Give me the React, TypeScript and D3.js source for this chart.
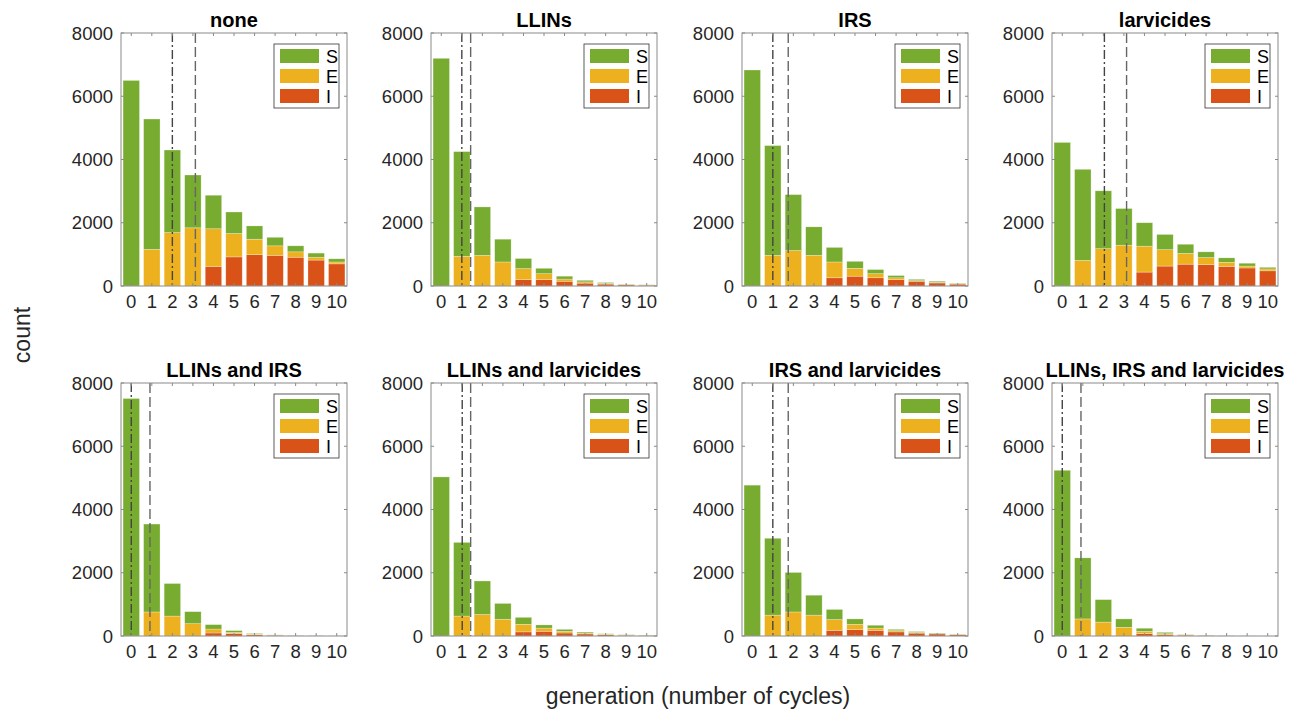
import React from 'react'
import * as d3 from 'd3'

const generations = [0, 1, 2, 3, 4, 5, 6, 7, 8, 9, 10]
const yTicks = [0, 2000, 4000, 6000, 8000]
const titles = [
  'none',
  'LLINs',
  'IRS',
  'larvicides',
  'LLINs and IRS',
  'LLINs and larvicides',
  'IRS and larvicides',
  'LLINs, IRS and larvicides',
]
const compartments = ['S', 'E', 'I']

// counts per generation, one row per scenario
const susceptible = [
  [6500, 4120, 2610, 1670, 1060, 680, 420, 270, 190, 130, 100],
  [7200, 3310, 1530, 720, 320, 170, 90, 50, 25, 10, 5],
  [6830, 3470, 1770, 900, 460, 220, 130, 70, 40, 35, 10],
  [4540, 2880, 1830, 1160, 740, 480, 290, 180, 140, 90, 50],
  [7510, 2780, 1030, 380, 140, 55, 20, 7, 3, 2, 1],
  [5030, 2330, 1060, 500, 220, 100, 60, 30, 15, 8, 5],
  [4770, 2430, 1250, 630, 320, 170, 90, 40, 25, 15, 10],
  [5240, 1930, 710, 265, 95, 40, 10, 5, 2, 1, 0],
]
const exposed = [
  [0, 1160, 1690, 1840, 1190, 740, 490, 300, 170, 90, 60],
  [0, 940, 970, 760, 350, 190, 70, 40, 25, 15, 10],
  [0, 970, 1120, 970, 500, 250, 130, 60, 20, 20, 15],
  [0, 810, 1180, 1290, 820, 520, 340, 220, 130, 60, 60],
  [0, 760, 630, 390, 125, 40, 20, 8, 4, 2, 1],
  [0, 630, 680, 530, 240, 100, 55, 30, 15, 10, 6],
  [0, 660, 760, 660, 340, 170, 70, 40, 25, 15, 10],
  [0, 540, 440, 275, 75, 35, 15, 5, 2, 1, 1],
]
const infectious = [
  [0, 0, 0, 0, 620, 920, 990, 970, 910, 820, 700],
  [0, 0, 0, 0, 200, 200, 150, 90, 60, 35, 25],
  [0, 0, 0, 0, 260, 310, 260, 200, 150, 95, 60],
  [0, 0, 0, 0, 440, 630, 690, 680, 620, 570, 480],
  [0, 0, 0, 0, 95, 75, 40, 20, 8, 4, 2],
  [0, 0, 0, 0, 130, 150, 95, 65, 40, 22, 14],
  [0, 0, 0, 0, 180, 200, 180, 130, 90, 65, 40],
  [0, 0, 0, 0, 75, 40, 25, 10, 4, 1, 0],
]
const dashDotLine = [2.0, 1.0, 1.0, 2.05, 0.0, 1.02, 1.0, 0.0]
const dashedLine = [3.12, 1.43, 1.75, 3.13, 0.91, 1.43, 1.75, 0.91]

const colors = { S: '#77AC30', E: '#EDB120', I: '#D95319' }
const font = '"Liberation Sans", Arial, Helvetica, sans-serif'

const panelW = 226
const panelH = 253
const lefts = [121, 431, 742, 1052]
const tops = [33, 383]

function Panel({ idx }: { idx: number }) {
  const left = lefts[idx % 4]
  const top = tops[Math.floor(idx / 4)]
  const x = d3.scaleLinear().domain([-0.5, 10.5]).range([0, panelW])
  const y = d3.scaleLinear().domain([0, 8000]).range([panelH, 0])
  const bw = x(0.4) - x(-0.4)

  const rows = generations.map((g, i) => ({
    g,
    I: infectious[idx][i],
    E: exposed[idx][i],
    S: susceptible[idx][i],
  }))
  const stacked = d3.stack<any>().keys(['I', 'E', 'S'])(rows)

  return (
    <g transform={`translate(${left},${top})`}>
      {stacked.map((layer) => (
        <g key={layer.key} fill={colors[layer.key as 'S']}>
          {layer.map((d, i) =>
            d[1] - d[0] > 0 ? (
              <rect
                key={i}
                x={x(generations[i]) - bw / 2}
                width={bw}
                y={y(d[1])}
                height={y(d[0]) - y(d[1])}
                stroke="#ffffff"
                strokeOpacity={0.45}
                strokeWidth={0.6}
              />
            ) : null
          )}
        </g>
      ))}
      <line
        x1={x(dashDotLine[idx])}
        x2={x(dashDotLine[idx])}
        y1={0}
        y2={panelH}
        stroke="#444"
        strokeWidth={1.4}
        strokeDasharray="9,3,2,3"
      />
      <line
        x1={x(dashedLine[idx])}
        x2={x(dashedLine[idx])}
        y1={0}
        y2={panelH}
        stroke="#666"
        strokeWidth={1.4}
        strokeDasharray="10,4"
      />
      {/* box and ticks */}
      <rect x={0} y={0} width={panelW} height={panelH} fill="none" stroke="#8a8a8a" strokeWidth={1} />
      {generations.map((g) => (
        <g key={g} stroke="#8a8a8a">
          <line x1={x(g)} x2={x(g)} y1={panelH} y2={panelH - 3} />
          <line x1={x(g)} x2={x(g)} y1={0} y2={3} />
        </g>
      ))}
      {yTicks.map((t) => (
        <g key={t} stroke="#8a8a8a">
          <line x1={0} x2={3} y1={y(t)} y2={y(t)} />
          <line x1={panelW} x2={panelW - 3} y1={y(t)} y2={y(t)} />
        </g>
      ))}
      {generations.map((g) => (
        <text key={g} x={x(g)} y={panelH + 22} textAnchor="middle" fontSize={18.5} fill="#262626">
          {g}
        </text>
      ))}
      {yTicks.map((t) => (
        <text key={t} x={-8} y={y(t) + 6.5} textAnchor="end" fontSize={18.5} fill="#262626">
          {t}
        </text>
      ))}
      <text x={panelW / 2} y={-6} textAnchor="middle" fontSize={20} fontWeight="bold" fill="#000">
        {titles[idx]}
      </text>
      {/* legend */}
      <g transform={`translate(153,11)`}>
        <rect x={0} y={0} width={65} height={64} fill="#fff" stroke="#333" strokeWidth={0.8} />
        {compartments.map((c, i) => (
          <g key={c}>
            <rect x={6} y={5 + i * 20} width={39} height={14} fill={colors[c as 'S']} />
            <text x={52} y={18.5 + i * 20} fontSize={18} fill="#000">
              {c}
            </text>
          </g>
        ))}
      </g>
    </g>
  )
}

export default function App() {
  return (
    <svg
      width={1301}
      height={715}
      style={{ position: 'absolute', left: 0, top: 0, background: '#fff' }}
      fontFamily={font}
    >
      <rect width={1301} height={715} fill="#fff" />
      {titles.map((_, i) => (
        <Panel key={i} idx={i} />
      ))}
      <text
        transform="translate(30,335) rotate(-90)"
        textAnchor="middle"
        fontSize={23}
        fill="#262626"
      >
        count
      </text>
      <text x={698} y={704} textAnchor="middle" fontSize={23} fill="#262626">
        generation (number of cycles)
      </text>
    </svg>
  )
}
